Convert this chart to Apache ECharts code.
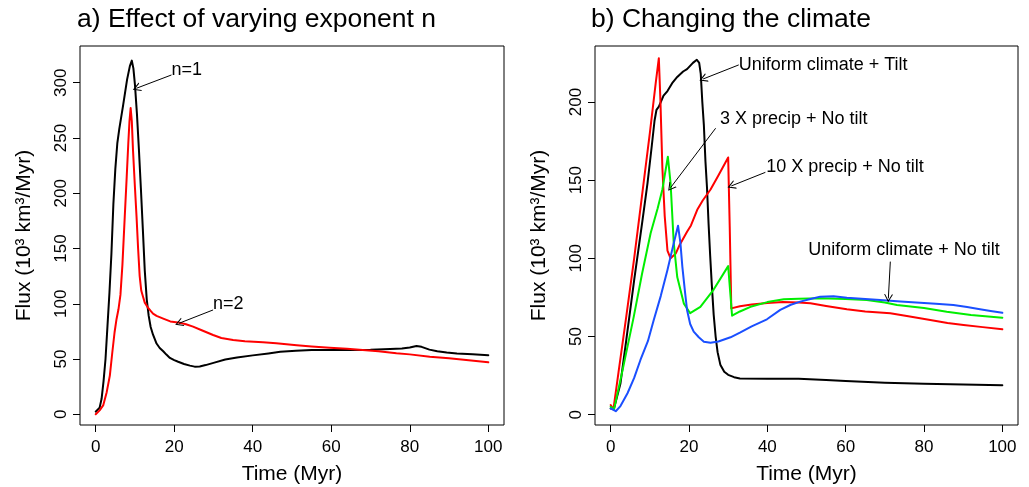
<!DOCTYPE html>
<html>
<head>
<meta charset="utf-8">
<script src="https://cdn.jsdelivr.net/npm/echarts@6/dist/echarts.min.js"></script>
<style>html,body{margin:0;padding:0;background:#fff}#c{width:1029px;height:487px}</style>
</head>
<body>
<div id="c"></div>
<script>
// ---------- Data ----------
var xTicks = [0, 20, 40, 60, 80, 100];
var yTicksA = [0, 50, 100, 150, 200, 250, 300];
var yTicksB = [0, 50, 100, 150, 200];

// Panel a) n=1 (black)
var aN1Time = [0, 0.5, 1, 1.5, 2, 2.5, 3, 3.5, 4, 4.5, 5, 5.5, 6, 7, 8, 8.7, 9.2, 9.6, 10, 10.5, 11, 11.5, 12, 12.5, 13, 13.5, 14, 14.6, 15.5, 16.3, 17.2, 18, 18.9, 20, 21, 22.5, 24, 25.2, 26.5, 28, 30, 33, 36, 40, 44, 47, 51, 55, 60, 65, 70, 75, 78, 80, 81.7, 83, 85, 87, 89.4, 92, 96, 100];
var aN1Flux = [2.4, 3.5, 6, 14, 30, 50, 80, 110, 145, 190, 222, 245, 258, 280, 303, 315, 320, 313, 298, 272, 240, 205, 168, 130, 104, 89, 79, 72, 64, 60, 57, 54, 51, 49, 47.5, 45.5, 44, 43.1, 43.3, 44.5, 46.5, 49.5, 51.3, 53.3, 55, 56.5, 57.5, 58.2, 58.2, 58.2, 58.3, 59, 59.6, 60.5, 61.8, 61, 58.5, 57, 55.8, 55, 54.2, 53.4];

// Panel a) n=2 (red)
var aN2Time = [0, 0.5, 1, 1.9, 2.8, 3.6, 4.2, 4.8, 5.3, 5.8, 6.3, 6.8, 7.4, 7.9, 8.3, 8.6, 8.9, 9.2, 9.5, 10, 10.4, 10.8, 11.2, 11.6, 12, 12.5, 13.2, 14, 14.6, 15.5, 17.2, 19, 21.4, 23, 24.8, 27, 29.9, 32, 35, 38, 42.6, 46, 51.2, 55, 59.6, 64, 68, 72, 76.6, 80, 85.1, 90, 95, 100];
var aN2Flux = [0, 1.5, 3.5, 8, 20, 35, 55, 74, 86, 95, 108, 135, 179, 215, 245, 265, 277, 265, 239, 205, 179, 150, 125, 112, 107, 101, 97, 93.5, 91, 89, 86.5, 84, 82.8, 81.5, 79.3, 76, 71.7, 69, 67.2, 66, 65.1, 64.3, 62.4, 61.3, 60.3, 59.2, 58.2, 57, 55.2, 54.2, 52.1, 50.6, 48.8, 47];

// Panel b) Uniform climate + Tilt (black)
var bTiltTime = [0, 0.85, 2.5, 4, 6, 8, 9.4, 10.5, 11.2, 11.7, 12.3, 13.5, 14.5, 15.7, 17, 18.5, 19.5, 21, 22, 22.6, 23, 23.4, 23.8, 24.2, 24.6, 25, 25.4, 25.8, 26.3, 26.8, 27.3, 28, 29, 30, 31.5, 33, 40, 48, 55, 60, 70, 80, 90, 100];
var bTiltFlux = [4, 4, 20, 48, 86, 122, 148, 172, 188, 195, 197, 204, 207, 212, 216, 219.5, 221, 225, 227, 225, 218, 200, 185, 162, 145, 122, 102, 84, 64, 50, 40, 32, 27.5, 25.5, 24, 23.2, 23, 23, 22.2, 21.6, 20.5, 19.8, 19.3, 18.9];

// Panel b) 10 X precip + No tilt (red)
var b10xTime = [0, 0.7, 2, 4, 6, 8, 10, 11.5, 12.3, 12.7, 13.2, 13.8, 14.5, 15.3, 16.6, 17.5, 19.5, 20.5, 22.1, 23.5, 25.5, 27.5, 30, 30.4, 30.8, 33, 36, 40, 44, 48, 51, 55, 60.3, 65, 71.4, 76, 81.6, 86, 90.1, 95, 100];
var b10xFlux = [6.2, 3.4, 27, 63, 100, 140, 180, 212, 228, 201, 158, 127, 105, 100, 103, 108, 117, 121, 131, 137, 144, 153, 164.5, 120, 68, 69.3, 70.5, 71.5, 72, 71.8, 71.2, 69.5, 67.4, 66, 64.9, 63, 60.6, 58.7, 57.4, 56, 54.6];

// Panel b) 3 X precip + No tilt (green)
var b3xTime = [0, 0.85, 3, 5.9, 8, 10.2, 12, 13.2, 14.6, 15.3, 16.1, 17, 18.7, 20.3, 22.9, 26.3, 30, 31, 33, 35.7, 40, 44.2, 48, 53.5, 60, 65.4, 70, 73.1, 80, 85.8, 92, 100];
var b3xFlux = [5.1, 3.4, 28, 62.7, 90, 116, 132, 144, 165, 148, 110, 88, 71, 64.9, 69, 80, 95, 63.3, 66, 69, 72, 73.8, 74.2, 74.4, 74, 73.4, 71.8, 70.2, 68.2, 65.9, 63.8, 62];

// Panel b) Uniform climate + No tilt (blue)
var bNoTiltTime = [0, 0.4, 1.3, 2.5, 4.3, 6, 7.6, 9.5, 11, 12.8, 14.5, 16.1, 17.2, 17.8, 18.3, 19, 19.5, 20.3, 21.2, 22.5, 23.8, 25.5, 27.5, 30.6, 33, 36, 39.9, 43.3, 46, 48.4, 51, 53.5, 56.9, 60.3, 65, 68.8, 74, 79, 83, 87.5, 91, 94.3, 97, 100];
var bNoTiltFlux = [4, 3, 2.2, 5.5, 13.7, 23.5, 35, 47, 60.6, 76, 92.6, 109.6, 120.9, 110, 94.7, 78, 67, 58, 53.1, 49.5, 46.7, 46, 46.8, 49.5, 52.5, 56.5, 61, 67, 70.3, 72.3, 74, 75.5, 75.8, 74.8, 74, 73.4, 72.4, 71.6, 71, 70.2, 68.8, 67.4, 66.3, 65.2];

// Annotations (data coordinates)
var annA = [
  {text: 'n=1', pos: [19.3, 311.5], from: [19.3, 307], to: [10.4, 295]},
  {text: 'n=2', pos: [29.9, 99.8], from: [29.9, 94.4], to: [21.2, 82.3]}
];
var annB = [
  {text: 'Uniform climate + Tilt', pos: [32.7, 223.7], from: [32.7, 223.7], to: [23.6, 214.7]},
  {text: '3 X precip + No tilt', pos: [27.9, 189.1], from: [26.8, 183.2], to: [15.3, 145.2]},
  {text: '10 X precip + No tilt', pos: [39.7, 158.4], from: [39.5, 155], to: [30.8, 146.3]},
  {text: 'Uniform climate + No tilt', pos: [74.9, 105.3], from: [71.4, 97.9], to: [70.9, 74.4], center: true}
];

// ---------- Build ----------
function pairs(xs, ys) { return xs.map(function (x, i) { return [x, ys[i]]; }); }
var FONT = 'Liberation Sans';
var arrowHead = 'path://M5,0 L10,8.7 L8.7,8.7 L5,2.3 L1.3,8.7 L0,8.7 Z';

function markLines(ann) {
  return {
    silent: true, animation: false,
    symbol: ['none', arrowHead], symbolSize: [9, 8], symbolKeepAspect: false,
    lineStyle: {color: '#000', width: 1, type: 'solid'},
    label: {show: false},
    emphasis: {disabled: true},
    data: ann.map(function (a) { return [{coord: a.from}, {coord: a.to}]; })
  };
}
function markPoints(ann) {
  return {
    silent: true, animation: false,
    symbol: 'circle', symbolSize: 0,
    data: ann.map(function (a) {
      return {
        coord: a.pos, value: a.text,
        label: {
          show: true, formatter: a.text,
          position: a.center ? 'inside' : 'right', distance: 0,
          fontFamily: FONT, fontSize: 18, color: '#000'
        }
      };
    })
  };
}
function xAxis(idx) {
  return {
    type: 'value', gridIndex: idx, min: -4, max: 104,
    name: 'Time (Myr)', nameLocation: 'middle', nameGap: 39,
    nameTextStyle: {fontFamily: FONT, fontSize: 21, color: '#000'},
    axisLine: {show: false, onZero: false},
    axisTick: {show: true, length: 7, customValues: xTicks, lineStyle: {color: '#000', width: 1}},
    axisLabel: {show: true, customValues: xTicks, margin: 14, fontFamily: FONT, fontSize: 17, color: '#000'},
    splitLine: {show: false}
  };
}
function yAxis(idx, min, max, ticks) {
  return {
    type: 'value', gridIndex: idx, min: min, max: max,
    name: 'Flux (10\u00B3 km\u00B3/Myr)', nameLocation: 'middle', nameGap: 45,
    nameTextStyle: {fontFamily: FONT, fontSize: 21, color: '#000'},
    axisLine: {show: false, onZero: false},
    axisTick: {show: true, length: 7, customValues: ticks, lineStyle: {color: '#000', width: 1}},
    axisLabel: {show: true, customValues: ticks, rotate: 90, margin: 10, fontFamily: FONT, fontSize: 17, color: '#000'},
    splitLine: {show: false}
  };
}
function line(name, xi, data, color, extra) {
  var s = {
    type: 'line', name: name, xAxisIndex: xi, yAxisIndex: xi,
    data: data, showSymbol: false, symbol: 'none', smooth: false,
    lineStyle: {color: color, width: 2, join: 'round', cap: 'round'}, itemStyle: {color: color},
    silent: true, animation: false, z: 2
  };
  if (extra) for (var k in extra) s[k] = extra[k];
  return s;
}

var titleStyle = {fontFamily: FONT, fontSize: 26.5, fontWeight: 'normal', color: '#000'};
var gridBase = {top: 46, height: 379, show: true, borderColor: '#000', borderWidth: 1,
  backgroundColor: 'transparent', containLabel: false, outerBoundsMode: 'none'};
var option = {
  backgroundColor: '#fff',
  animation: false,
  title: [
    {text: 'a) Effect of varying exponent n', left: 77, top: 6, padding: 0, textStyle: titleStyle},
    {text: 'b) Changing the climate', left: 591, top: 6, padding: 0, textStyle: titleStyle}
  ],
  grid: [
    Object.assign({left: 80, width: 424}, gridBase),
    Object.assign({left: 595, width: 423}, gridBase)
  ],
  xAxis: [xAxis(0), xAxis(1)],
  yAxis: [yAxis(0, -9.7, 333.2, yTicksA), yAxis(1, -6.6, 235.8, yTicksB)],
  series: [
    line('n=1', 0, pairs(aN1Time, aN1Flux), '#000000', {markLine: markLines(annA), markPoint: markPoints(annA)}),
    line('n=2', 0, pairs(aN2Time, aN2Flux), '#ff0000'),
    line('Uniform climate + Tilt', 1, pairs(bTiltTime, bTiltFlux), '#000000', {markLine: markLines(annB), markPoint: markPoints(annB)}),
    line('10 X precip + No tilt', 1, pairs(b10xTime, b10xFlux), '#ff0000'),
    line('3 X precip + No tilt', 1, pairs(b3xTime, b3xFlux), '#00ee00'),
    line('Uniform climate + No tilt', 1, pairs(bNoTiltTime, bNoTiltFlux), '#1a4fff')
  ]
};
var chart = echarts.init(document.getElementById('c'), null, {renderer: 'canvas'});
chart.setOption(option);
</script>
</body>
</html>
